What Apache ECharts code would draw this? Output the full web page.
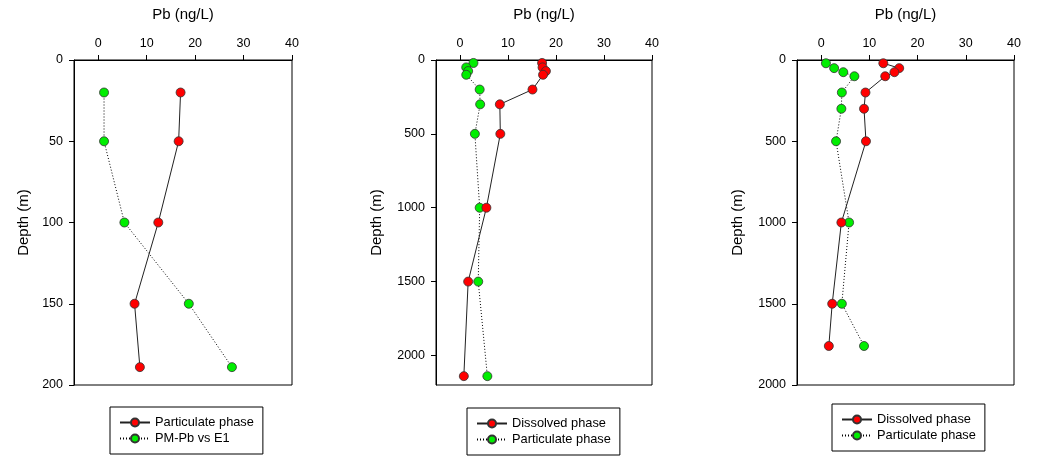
<!DOCTYPE html>
<html>
<head>
<meta charset="utf-8">
<script src="https://cdn.jsdelivr.net/npm/echarts@6/dist/echarts.min.js"></script>
<style>
html,body{margin:0;padding:0;background:#fff;}
#c{width:1039px;height:464px;}
</style>
</head>
<body>
<div id="c"></div>
<script>
// ---- data ----
const xTicks = [0, 10, 20, 30, 40];
const p1DepthTicks = [0, 50, 100, 150, 200];
const p2DepthTicks = [0, 500, 1000, 1500, 2000];
const p3DepthTicks = [0, 500, 1000, 1500, 2000];

const p1Depth = [20, 50, 100, 150, 189];
const p1Particulate = [17.0, 16.6, 12.4, 7.5, 8.6];
const p1PMPb = [1.2, 1.2, 5.4, 18.7, 27.6];

const p2Depth = [20, 50, 75, 100, 200, 300, 500, 1000, 1500, 2140];
const p2Dissolved = [17.1, 17.2, 17.9, 17.3, 15.1, 8.3, 8.4, 5.5, 1.7, 0.8];
const p2Particulate = [2.8, 1.3, 1.7, 1.3, 4.1, 4.2, 3.1, 4.1, 3.8, 5.7];

const p3Depth = [20, 50, 75, 100, 200, 300, 500, 1000, 1500, 1760];
const p3Dissolved = [12.9, 16.2, 15.2, 13.3, 9.2, 8.9, 9.3, 4.2, 2.3, 1.6];
const p3Particulate = [1.0, 2.7, 4.6, 6.9, 4.3, 4.2, 3.1, 5.8, 4.3, 8.9];

const xTitle = 'Pb (ng/L)';
const yTitle = 'Depth (m)';
const legendLabels = {
  p1a: 'Particulate phase', p1b: 'PM-Pb vs E1',
  p2a: 'Dissolved phase', p2b: 'Particulate phase',
  p3a: 'Dissolved phase', p3b: 'Particulate phase'
};

// ---- chart ----
const FONT = '"Liberation Sans", Arial, sans-serif';
const pair = (xs, ds) => xs.map((v, i) => [v, ds[i]]);

const grids = [
  {left: 74, top: 60, width: 218, height: 325},
  {left: 436, top: 60, width: 216, height: 325},
  {left: 797, top: 60, width: 217, height: 325}
].map(g => Object.assign(g, {show: true, borderColor: '#000', borderWidth: 1, backgroundColor: 'transparent'}));

function xAxis(i) {
  return {
    gridIndex: i, type: 'value', position: 'top', min: -5, max: 40,
    name: xTitle, nameLocation: 'middle', nameGap: 38,
    nameTextStyle: {fontFamily: FONT, fontSize: 15, color: '#000'},
    axisLine: {show: true, onZero: false, lineStyle: {color: '#000', width: 1}},
    axisTick: {show: true, length: 5, inside: false, customValues: xTicks, lineStyle: {color: '#000'}},
    axisLabel: {customValues: xTicks, margin: 10, fontFamily: FONT, fontSize: 12.5, color: '#000', formatter: v => String(v)},
    splitLine: {show: false}
  };
}
function yAxis(i, max, ticks, gap) {
  return {
    gridIndex: i, type: 'value', position: 'left', inverse: true, min: 0, max: max,
    name: yTitle, nameLocation: 'middle', nameGap: gap, nameRotate: 90,
    nameTextStyle: {fontFamily: FONT, fontSize: 15, color: '#000'},
    axisLine: {show: true, onZero: false, lineStyle: {color: '#000', width: 1}},
    axisTick: {show: true, length: 5, customValues: ticks, lineStyle: {color: '#000'}},
    axisLabel: {customValues: ticks, margin: 11, fontFamily: FONT, fontSize: 12.5, color: '#000', formatter: v => String(v)},
    splitLine: {show: false}
  };
}

function redSeries(id, i, data) {
  return {
    name: id, type: 'line', xAxisIndex: i, yAxisIndex: i, data: data,
    symbol: 'circle', symbolSize: 9,
    itemStyle: {color: '#ff0000', borderColor: '#333', borderWidth: 0.8},
    lineStyle: {color: '#222', width: 1, type: 'solid'},
    emphasis: {disabled: true}, animation: false, z: 3
  };
}
function greenSeries(id, i, data) {
  return {
    name: id, type: 'line', xAxisIndex: i, yAxisIndex: i, data: data,
    symbol: 'circle', symbolSize: 9,
    itemStyle: {color: '#00ee00', borderColor: '#333', borderWidth: 0.8},
    lineStyle: {color: '#000', width: 1, type: [1, 2]},
    emphasis: {disabled: true}, animation: false, z: 2
  };
}

function legend(ids, left, top) {
  return {
    data: ids, left: left, top: top, orient: 'vertical',
    itemWidth: 30, itemHeight: 10, itemGap: 3,
    padding: [9, 9, 9, 9],
    borderColor: '#000', borderWidth: 1, borderRadius: 0,
    formatter: n => legendLabels[n],
    textStyle: {fontFamily: FONT, fontSize: 12.8, color: '#000'},
    selectedMode: false
  };
}

const option = {
  backgroundColor: '#fff',
  animation: false,
  grid: grids,
  xAxis: [xAxis(0), xAxis(1), xAxis(2)],
  yAxis: [yAxis(0, 200, p1DepthTicks, 43), yAxis(1, 2200, p2DepthTicks, 52), yAxis(2, 2000, p3DepthTicks, 52)],
  legend: [
    legend(['p1a', 'p1b'], 110, 407),
    legend(['p2a', 'p2b'], 467, 408),
    legend(['p3a', 'p3b'], 832, 404)
  ],
  series: [
    greenSeries('p1b', 0, pair(p1PMPb, p1Depth)),
    redSeries('p1a', 0, pair(p1Particulate, p1Depth)),
    greenSeries('p2b', 1, pair(p2Particulate, p2Depth)),
    redSeries('p2a', 1, pair(p2Dissolved, p2Depth)),
    greenSeries('p3b', 2, pair(p3Particulate, p3Depth)),
    redSeries('p3a', 2, pair(p3Dissolved, p3Depth))
  ]
};

const chart = echarts.init(document.getElementById('c'), null, {renderer: 'canvas'});
chart.setOption(option);
</script>
</body>
</html>
